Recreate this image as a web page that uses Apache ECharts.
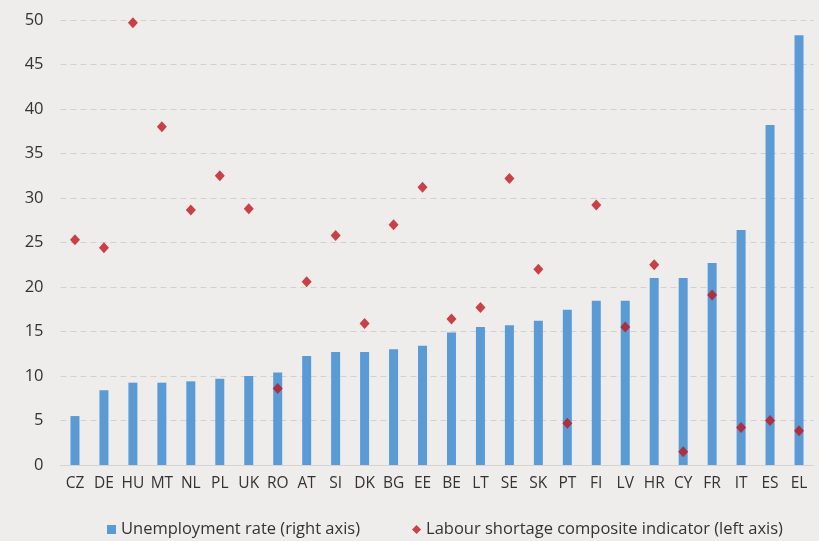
<!DOCTYPE html>
<html>
<head>
<meta charset="utf-8">
<script src="https://cdn.jsdelivr.net/npm/echarts@6/dist/echarts.min.js"></script>
<style>
html,body{margin:0;padding:0;background:#efedeb;}
#c{width:819px;height:541px;}
</style>
</head>
<body>
<div id="c"></div>
<script>
const categories = ['CZ','DE','HU','MT','NL','PL','UK','RO','AT','SI','DK','BG','EE','BE','LT','SE','SK','PT','FI','LV','HR','CY','FR','IT','ES','EL'];
const unemployment = [5.5,8.4,9.25,9.25,9.4,9.7,10.0,10.4,12.25,12.7,12.7,13.0,13.4,14.9,15.5,15.7,16.2,17.45,18.45,18.45,21.0,21.0,22.7,26.4,38.2,48.3];
const shortage = [25.3,24.4,49.7,38.0,28.65,32.5,28.8,8.6,20.6,25.8,15.9,27.0,31.2,16.4,17.7,32.2,22.0,4.7,29.2,15.5,22.5,1.5,19.1,4.2,5.0,3.85];
const yTicks = {min:0, max:50, interval:5};

const chart = echarts.init(document.getElementById('c'), null, {renderer:'canvas'});
const font = "'Open Sans', 'Noto Sans', sans-serif";
chart.setOption({
  backgroundColor:'#efedeb',
  animation:false,
  textStyle:{fontFamily:font},
  grid:{left:60.5, right:5.5, top:20, bottom:76, containLabel:false},
  legend:{
    top:516, left:102, itemGap:52, itemWidth:9, itemHeight:9,
    textStyle:{fontFamily:font, fontSize:16.5, color:'#333'},
    data:[{name:'Unemployment rate (right axis)', icon:'rect'},{name:'Labour shortage composite indicator (left axis)', icon:'diamond'}]
  },
  xAxis:{
    type:'category', data:categories,
    axisLine:{show:true, lineStyle:{color:'#d6d4d2', width:1}},
    axisTick:{show:false},
    axisLabel:{color:'#333', fontSize:15.5, margin:11, fontFamily:font, interval:0}
  },
  yAxis:[{
    type:'value', min:yTicks.min, max:yTicks.max, interval:yTicks.interval,
    axisLine:{show:false}, axisTick:{show:false},
    axisLabel:{color:'#333', fontSize:16.5, margin:17, fontFamily:font},
    splitLine:{lineStyle:{color:'#d3d1cf', type:[6,4], width:1}}
  },{
    type:'value', min:yTicks.min, max:yTicks.max, interval:yTicks.interval, show:false
  }],
  series:[{
    name:'Unemployment rate (right axis)', type:'bar', data:unemployment, yAxisIndex:1,
    barWidth:9, itemStyle:{color:'#5b9bd5'}
  },{
    name:'Labour shortage composite indicator (left axis)', type:'scatter', data:shortage, yAxisIndex:0,
    symbol:'diamond', symbolSize:[10,11], itemStyle:{color:'#c0141e'}, z:5
  }]
});
</script>
</body>
</html>
